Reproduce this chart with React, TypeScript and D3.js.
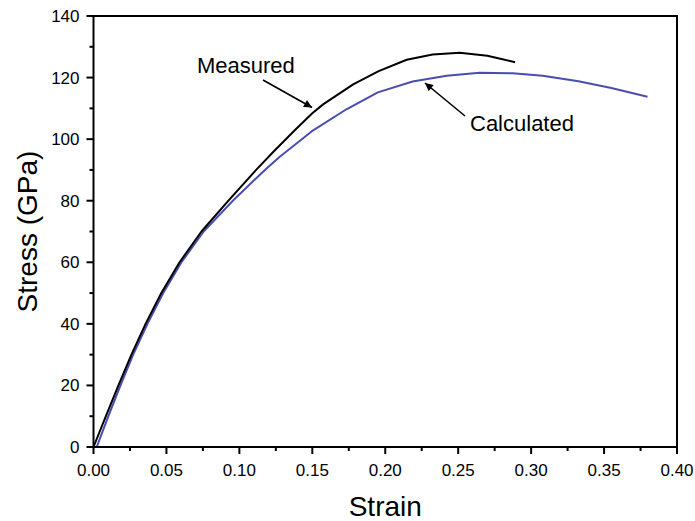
import { useMemo } from "react";
import * as d3 from "d3";

const W = 695;
const H = 521;
const FONT = "Liberation Sans, Arial, Helvetica, sans-serif";

// Measured curve (strain, stress GPa)
const measuredStrain = [0, 0.0085, 0.0171, 0.026, 0.0357, 0.0465, 0.059, 0.074, 0.0925, 0.1115, 0.1235, 0.139, 0.15, 0.1574, 0.178, 0.1955, 0.2147, 0.2325, 0.251, 0.27, 0.289];
const measuredStress = [0, 10, 20, 30, 40, 50, 60, 70, 80, 90, 96.0, 103.4, 108.4, 111.3, 117.8, 122.1, 125.8, 127.5, 128.1, 127.1, 125.0];

// Calculated curve
const calcStrain = [0.0022, 0.0102, 0.0185, 0.0272, 0.037, 0.0478, 0.0603, 0.0755, 0.0955, 0.1175, 0.1277, 0.1495, 0.1734, 0.1949, 0.2188, 0.2421, 0.2647, 0.2873, 0.3079, 0.3325, 0.355, 0.3798];
const calcStress = [0, 10, 20, 30, 40, 50, 60, 70, 80, 90, 94.3, 102.5, 109.7, 115.2, 118.7, 120.6, 121.6, 121.4, 120.6, 118.8, 116.6, 113.8];

const xTicks = [0, 0.05, 0.1, 0.15, 0.2, 0.25, 0.3, 0.35, 0.4];
const xMinor = [0.025, 0.075, 0.125, 0.175, 0.225, 0.275, 0.325, 0.375];
const yTicks = [0, 20, 40, 60, 80, 100, 120, 140];
const yMinor = [10, 30, 50, 70, 90, 110, 130];

export default function App() {
  const x = useMemo(() => d3.scaleLinear().domain([0, 0.4]).range([93.5, 677]), []);
  const y = useMemo(() => d3.scaleLinear().domain([0, 140]).range([447, 16]), []);

  const line = d3.line<[number, number]>().x(d => x(d[0])).y(d => y(d[1]));
  const measured = measuredStrain.map((s, i) => [s, measuredStress[i]] as [number, number]);
  const calc = calcStrain.map((s, i) => [s, calcStress[i]] as [number, number]);

  const [x0, x1] = x.range();
  const [y0, y1] = y.range();

  return (
    <svg width={W} height={H} style={{ position: "absolute", left: 0, top: 0, background: "#fff" }} fontFamily={FONT}>
      <defs>
        <marker id="arrow" viewBox="0 0 10 10" refX="10" refY="5" markerWidth="12" markerHeight="8" markerUnits="userSpaceOnUse" orient="auto">
          <path d="M0,0 L10,5 L0,10 z" fill="#000" />
        </marker>
      </defs>

      {/* curves */}
      <path d={line(calc) || ""} fill="none" stroke="#4a4db0" strokeWidth={2} strokeLinejoin="round" />
      <path d={line(measured) || ""} fill="none" stroke="#000" strokeWidth={2} strokeLinejoin="round" />

      {/* frame */}
      <rect x={x0} y={y1} width={x1 - x0} height={y0 - y1} fill="none" stroke="#000" strokeWidth={2} />

      {/* x ticks */}
      {xTicks.map(t => (
        <g key={"x" + t}>
          <line x1={x(t)} x2={x(t)} y1={y0} y2={y0 + 7} stroke="#000" strokeWidth={2} />
          <text x={x(t)} y={y0 + 29} textAnchor="middle" fontSize={17}>{t.toFixed(2)}</text>
        </g>
      ))}
      {xMinor.map(t => (
        <line key={"xm" + t} x1={x(t)} x2={x(t)} y1={y0} y2={y0 + 4} stroke="#000" strokeWidth={2} />
      ))}

      {/* y ticks */}
      {yTicks.map(t => (
        <g key={"y" + t}>
          <line x1={x0 - 7} x2={x0} y1={y(t)} y2={y(t)} stroke="#000" strokeWidth={2} />
          <text x={x0 - 14} y={y(t) + 6} textAnchor="end" fontSize={17}>{t}</text>
        </g>
      ))}
      {yMinor.map(t => (
        <line key={"ym" + t} x1={x0 - 4} x2={x0} y1={y(t)} y2={y(t)} stroke="#000" strokeWidth={2} />
      ))}

      {/* axis titles */}
      <text x={(x0 + x1) / 2} y={516} textAnchor="middle" fontSize={28}>Strain</text>
      <text transform={`translate(37,${(y0 + y1) / 2}) rotate(-90)`} textAnchor="middle" fontSize={28}>Stress (GPa)</text>

      {/* annotations */}
      <text x={197} y={73} fontSize={22}>Measured</text>
      <line x1={263} y1={80} x2={312} y2={107.5} stroke="#000" strokeWidth={1.6} markerEnd="url(#arrow)" />
      <text x={470} y={131} fontSize={22}>Calculated</text>
      <line x1={465} y1={116} x2={425} y2={83} stroke="#000" strokeWidth={1.6} markerEnd="url(#arrow)" />
    </svg>
  );
}
